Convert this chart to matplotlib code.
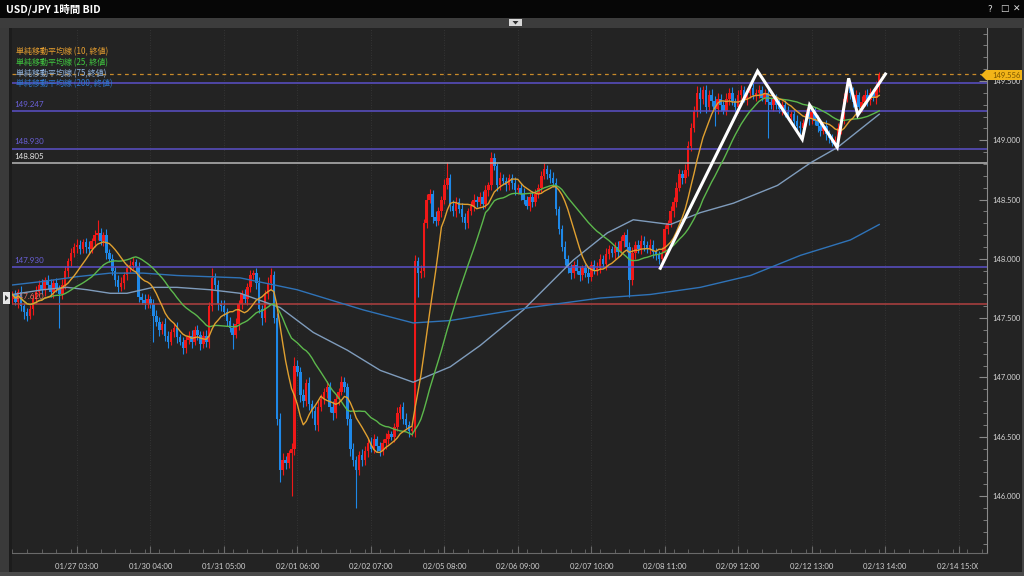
import numpy as np
import pandas as pd
import matplotlib
matplotlib.use("Agg")
import matplotlib.pyplot as plt
from matplotlib.patches import Rectangle, Polygon
from matplotlib.transforms import Bbox, TransformedBbox
from matplotlib.ticker import MultipleLocator

# ---------------- data ----------------
open0 = 147.66
closes = [
    147.70, 147.64, 147.72, 147.60, 147.55, 147.52, 147.58, 147.66, 147.72, 147.78,
    147.74, 147.82, 147.78, 147.72, 147.80, 147.75, 147.70, 147.78, 147.90, 147.98,
    148.05, 148.10, 148.12, 148.08, 148.14, 148.10, 148.08, 148.15, 148.20, 148.22,
    148.15, 148.20, 148.05, 148.00, 147.90, 147.82, 147.76, 147.80, 147.86, 147.92,
    147.95, 147.97, 147.93, 147.68, 147.65, 147.63, 147.66, 147.62, 147.52, 147.47,
    147.40, 147.45, 147.35, 147.30, 147.38, 147.42, 147.34, 147.30, 147.25, 147.32,
    147.35, 147.30, 147.40, 147.36, 147.28, 147.35, 147.30, 147.60, 147.84, 147.78,
    147.62, 147.60, 147.55, 147.48, 147.42, 147.36, 147.45, 147.62, 147.70, 147.66,
    147.76, 147.86, 147.88, 147.80, 147.58, 147.50, 147.70, 147.80, 147.86, 147.50,
    146.65, 146.22, 146.30, 146.28, 146.36, 146.40, 147.10, 147.05, 146.85, 146.80,
    146.95, 146.78, 146.72, 146.60, 146.75, 146.82, 146.88, 146.92, 146.75, 146.70,
    146.82, 146.88, 146.96, 146.92, 146.65, 146.40, 146.30, 146.22, 146.35, 146.30,
    146.38, 146.45, 146.40, 146.48, 146.42, 146.38, 146.45, 146.48, 146.52, 146.50,
    146.58, 146.70, 146.75, 146.65, 146.60, 146.55, 146.55, 147.98, 147.88, 147.90,
    148.30, 148.50, 148.55, 148.35, 148.32, 148.40, 148.50, 148.62, 148.68, 148.45,
    148.40, 148.48, 148.42, 148.35, 148.30, 148.40, 148.45, 148.50, 148.48, 148.52,
    148.46, 148.58, 148.62, 148.85, 148.78, 148.62, 148.68, 148.66, 148.62, 148.68,
    148.64, 148.58, 148.60, 148.55, 148.50, 148.45, 148.52, 148.48, 148.55, 148.60,
    148.70, 148.76, 148.72, 148.68, 148.64, 148.42, 148.25, 148.10, 148.00, 147.92,
    147.88, 147.95, 147.90, 147.86, 147.92, 147.88, 147.85, 147.95, 147.90, 147.92,
    148.00, 147.96, 148.04, 148.08, 148.05, 148.10, 148.06, 148.15, 148.20, 148.10,
    147.82, 148.05, 148.12, 148.08, 148.15, 148.12, 148.08, 148.12, 148.06, 148.03,
    148.00, 148.05, 148.25, 148.30, 148.40, 148.48, 148.60, 148.72, 148.68, 148.75,
    148.95, 149.10, 149.25, 149.40, 149.35, 149.42, 149.28, 149.38, 149.33, 149.26,
    149.35, 149.30, 149.25, 149.35, 149.40, 149.33, 149.28, 149.38, 149.42, 149.35,
    149.40, 149.44, 149.38, 149.40, 149.42, 149.36, 149.40, 149.32, 149.30, 149.35,
    149.30, 149.26, 149.30, 149.24, 149.20, 149.22, 149.16, 149.12, 149.10, 149.15,
    149.22, 149.18, 149.24, 149.16, 149.12, 149.08, 149.12, 149.05, 149.02, 148.98,
    149.00, 149.10, 149.18, 149.35, 149.45, 149.40, 149.32, 149.38, 149.28, 149.32,
    149.38, 149.34, 149.40, 149.36, 149.45, 149.556,
]
upper_wicks = [
    .03, .04, .03, .05, .03, .04, .03, .04, .05, .04,
    .05, .03, .04, .05, .03, .04, .03, .05, .04, .03,
    .04, .03, .05, .04, .03, .04, .05, .03, .04, .11,
    .04, .03, .05, .03, .04, .03, .04, .05, .03, .04,
    .04, .05, .03, .04, .03, .05, .04, .03, .04, .05,
    .04, .03, .05, .04, .03, .04, .05, .03, .04, .03,
    .04, .05, .03, .04, .03, .04, .05, .04, .08, .04,
    .04, .03, .05, .04, .03, .04, .05, .03, .04, .05,
    .04, .05, .03, .04, .05, .03, .04, .05, .06, .04,
    .04, .05, .06, .04, .03, .05, .07, .05, .04, .05,
    .04, .05, .03, .04, .05, .04, .03, .05, .04, .05,
    .04, .03, .05, .04, .03, .04, .05, .04, .03, .05,
    .04, .03, .05, .04, .03, .04, .03, .05, .04, .03,
    .04, .05, .03, .04, .05, .03, .04, .05, .04, .05,
    .04, .05, .04, .03, .05, .04, .03, .05, .14, .04,
    .05, .04, .03, .05, .04, .03, .04, .05, .03, .04,
    .05, .04, .03, .05, .04, .03, .05, .04, .03, .04,
    .04, .05, .03, .04, .05, .03, .04, .05, .04, .03,
    .04, .05, .03, .04, .05, .04, .03, .04, .05, .03,
    .04, .03, .05, .04, .03, .04, .05, .03, .04, .05,
    .04, .03, .05, .04, .03, .04, .05, .04, .03, .05,
    .04, .05, .03, .04, .05, .04, .03, .05, .04, .03,
    .04, .05, .04, .03, .05, .04, .05, .04, .03, .05,
    .04, .05, .04, .06, .05, .04, .05, .04, .05, .04,
    .05, .04, .03, .05, .04, .05, .03, .04, .05, .04,
    .04, .05, .04, .03, .05, .04, .03, .05, .04, .03,
    .04, .05, .03, .04, .05, .03, .04, .05, .04, .03,
    .04, .05, .03, .04, .05, .04, .03, .05, .04, .03,
    .04, .05, .04, .05, .06, .04, .05, .04, .03, .05,
    .04, .05, .04, .03, .05, .02,
]
lower_wicks = [
    .04, .03, .05, .04, .06, .04, .03, .05, .04, .03,
    .04, .05, .03, .04, .05, .03, .28, .04, .03, .05,
    .04, .03, .05, .04, .03, .05, .04, .03, .05, .04,
    .03, .04, .05, .03, .04, .05, .04, .03, .05, .04,
    .03, .04, .05, .04, .03, .05, .04, .03, .22, .04,
    .05, .03, .04, .05, .03, .04, .05, .03, .05, .04,
    .04, .05, .03, .04, .05, .03, .04, .05, .04, .03,
    .05, .04, .03, .05, .04, .12, .03, .05, .04, .03,
    .05, .04, .03, .05, .04, .06, .03, .04, .05, .04,
    .05, .10, .04, .05, .04, .36, .05, .04, .06, .05,
    .04, .05, .06, .04, .05, .03, .04, .05, .04, .06,
    .04, .05, .03, .04, .05, .06, .05, .32, .04, .05,
    .04, .05, .03, .04, .05, .04, .03, .05, .04, .03,
    .04, .03, .05, .04, .03, .05, .04, .05, .20, .04,
    .05, .04, .03, .05, .04, .03, .05, .04, .03, .05,
    .04, .05, .03, .04, .05, .04, .03, .05, .04, .03,
    .04, .03, .05, .04, .03, .05, .04, .03, .05, .04,
    .05, .04, .03, .05, .04, .03, .05, .04, .03, .04,
    .04, .03, .05, .04, .03, .05, .04, .03, .05, .04,
    .05, .04, .03, .05, .04, .03, .05, .04, .03, .04,
    .04, .03, .05, .04, .03, .05, .04, .03, .05, .04,
    .14, .04, .05, .03, .04, .05, .03, .04, .05, .04,
    .04, .03, .05, .04, .03, .05, .04, .03, .05, .04,
    .05, .04, .03, .05, .12, .04, .05, .03, .04, .14,
    .04, .05, .03, .04, .05, .03, .04, .05, .04, .03,
    .05, .04, .03, .05, .04, .03, .05, .30, .04, .05,
    .04, .03, .05, .04, .03, .05, .04, .03, .05, .04,
    .03, .05, .04, .03, .05, .04, .03, .05, .04, .03,
    .04, .03, .05, .04, .03, .05, .04, .03, .05, .04,
    .03, .05, .04, .03, .05, .04,
]

# long moving averages (bar index, price)
ma75_idx = [0, 10.4, 18.6, 25.4, 33.3, 39, 47.9, 56, 67.3, 77.5, 91.1, 102.4, 114, 125.2,
            136.4, 149, 159.2, 173.9, 190.9, 202.5, 211.3, 223.9, 234.1, 245.4, 260.4,
            271.6, 280.8, 295]
ma75_val = [147.70, 147.74, 147.76, 147.74, 147.71, 147.71, 147.76, 147.76, 147.74, 147.71,
            147.59, 147.38, 147.23, 147.06, 146.96, 147.09, 147.27, 147.57, 147.99, 148.22,
            148.33, 148.29, 148.39, 148.47, 148.62, 148.81, 148.94, 149.22]
ma200_idx = [0, 10.4, 22, 33.3, 44.5, 56, 77.5, 96.9, 119.4, 136.4, 149, 176.2, 200.1,
             217.1, 234.1, 251.2, 268.2, 285.2, 295]
ma200_val = [147.78, 147.81, 147.85, 147.88, 147.88, 147.86, 147.84, 147.74, 147.57, 147.46,
             147.48, 147.59, 147.67, 147.70, 147.76, 147.86, 148.03, 148.16, 148.29]

# hand-drawn zigzag annotation (bar index, price)
zig_idx = [220.5, 253.6, 268.8, 271.3, 280.7, 284.6, 287.7, 297.1]
zig_val = [147.921, 149.584, 149.008, 149.298, 148.941, 149.523, 149.213, 149.559]

level_vals = [149.480, 149.247, 148.930, 148.805, 147.930, 147.620]
level_labels = [None, "149.247", "148.930", "148.805", "147.930", "147.620"]
level_colors = ["#5a50c8", "#5a50c8", "#5a50c8", "#b8b8b8", "#5a50c8", "#b04040"]
level_text_colors = ["#6a60d8", "#6a60d8", "#6a60d8", "#e8e8e8", "#6a60d8", "#e07060"]

current_price = 149.556

xtick_idx = [22 + 25 * k for k in range(13)]
xtick_labels = ["01/27 03:00", "01/30 04:00", "01/31 05:00", "02/01 06:00", "02/02 07:00",
                "02/05 08:00", "02/06 09:00", "02/07 10:00", "02/08 11:00", "02/09 12:00",
                "02/12 13:00", "02/13 14:00", "02/14 15:00"]
ytick_vals = [146.0, 146.5, 147.0, 147.5, 148.0, 148.5, 149.0, 149.5]

legend_labels = ["単純移動平均線 (10, 終値)", "単純移動平均線 (25, 終値)",
                 "単純移動平均線 (75,終値)", "単純移動平均線 (200, 終値)"]
legend_colors = ["#e8a030", "#40c840", "#90b4e0", "#2e78d0"]

# ---------------- figure ----------------
W, H = 1024, 576
BG = "#232323"
fig = plt.figure(figsize=(W / 100, H / 100), dpi=100, facecolor=BG)
NUM = ["Lato", "DejaVu Sans"]
CJK = ["Noto Sans CJK JP", "DejaVu Sans"]


def frect(x0, y0, x1, y1, color, z=1):
    fig.add_artist(Rectangle((x0 / W, 1 - y1 / H), (x1 - x0) / W, (y1 - y0) / H,
                             transform=fig.transFigure, facecolor=color,
                             edgecolor="none", zorder=z))


frect(0, 0, W, 18, "#060606")
frect(0, 18, W, 28, "#3c3c3c")
frect(0, 28, 9, H, "#3a3a3a")
frect(9, 28, 12, H, "#1c1c1c")
frect(1022, 28, W, H, "#444444", z=0.5)
frect(0, 572, W, H, "#4a4a4a")
frect(509, 19, 522, 26, "#d8d8d8", z=2)
fig.add_artist(Polygon([[512.5 / W, 1 - 21 / H], [518.5 / W, 1 - 21 / H], [515.5 / W, 1 - 24.5 / H]],
                       transform=fig.transFigure, facecolor="#303030", edgecolor="none", zorder=3))
frect(3, 292, 10, 304, "#e6e6e6", z=2)
fig.add_artist(Polygon([[5 / W, 1 - 295 / H], [5 / W, 1 - 301 / H], [8.5 / W, 1 - 298 / H]],
                       transform=fig.transFigure, facecolor="#303030", edgecolor="none", zorder=3))

fig.text(6 / W, 1 - 9 / H, "USD/JPY 1時間 BID", color="white", fontsize=7.5,
         fontweight="bold", family=CJK, va="center", ha="left")
for xx, s in [(990, "?"), (1004, "□"), (1017, "✕")]:
    fig.text(xx / W, 1 - 9 / H, s, color="#e0e0e0", fontsize=6.5, family=["DejaVu Sans"],
             va="center", ha="center")

ax = fig.add_axes([12 / W, 1 - 553 / H, (986.5 - 12) / W, (553 - 28) / H], facecolor=BG)
ax.set_xlim(-0.12, 331.5)
ax.set_ylim(145.520, 149.947)

# grid
for xi in xtick_idx:
    ax.axvline(xi, color="#3a3a3a", lw=0.6, ls=(0, (1, 2)), zorder=0)

# candles
c = np.array(closes)
o = np.r_[open0, c[:-1]]
n = len(c)
x = np.arange(n)
hi = np.maximum(o, c) + np.array(upper_wicks)
lo = np.minimum(o, c) - np.array(lower_wicks)
col = np.where(c >= o, "#f01818", "#1e88e8")
ax.vlines(x, lo, hi, colors=col, lw=0.8, zorder=2)
ax.bar(x, np.maximum(np.abs(c - o), 0.012), bottom=np.minimum(o, c), width=0.85,
       color=col, linewidth=0, zorder=2)

# level lines
for v, lc in zip(level_vals, level_colors):
    ax.axhline(v, color=lc, lw=1.1, zorder=3)
for v, lab, tc in zip(level_vals, level_labels, level_text_colors):
    if lab:
        ax.annotate(lab, xy=(0.002, v), xycoords=("axes fraction", "data"),
                    xytext=(0, 2.5), textcoords="offset points", va="bottom", ha="left",
                    color=tc, fontsize=5.8, family=NUM, zorder=4)

ax.axhline(current_price, color="#c88a2a", lw=0.9, ls=(0, (3, 3)), zorder=3)

# moving averages
s = pd.Series(closes)
ma10 = s.rolling(10, min_periods=1).mean()
ma25 = s.rolling(25, min_periods=1).mean()
ax.plot(ma75_idx, ma75_val, color="#7f9cbc", lw=1.0, zorder=5)
ax.plot(ma200_idx, ma200_val, color="#2f73b8", lw=1.0, zorder=5)
ax.plot(x, ma25, color="#5cb84c", lw=1.0, zorder=5)
ax.plot(x, ma10, color="#e0a030", lw=1.0, zorder=6)

# zigzag
ax.plot(zig_idx, zig_val, color="white", lw=2.2, zorder=7, solid_joinstyle="miter",
        clip_on=False)

# axes styling
for sp in ["top", "left"]:
    ax.spines[sp].set_visible(False)
ax.spines["right"].set_color("#8a8a8a")
ax.spines["bottom"].set_color("#6a6a6a")
ax.yaxis.tick_right()
ax.set_yticks(ytick_vals)
ax.set_yticklabels([f"{v:.3f}" for v in ytick_vals])
ax.yaxis.set_minor_locator(MultipleLocator(0.1))
ax.tick_params(axis="y", which="major", direction="in", length=6, color="#8a8a8a",
               labelcolor="#d4d4d4", labelsize=5.5, pad=4.5)
ax.tick_params(axis="y", which="minor", direction="in", length=3, color="#8a8a8a")
for t in ax.get_yticklabels():
    t.set_family(NUM)
ax.set_xticks(xtick_idx)
ax.set_xticklabels([])
ax.xaxis.set_minor_locator(MultipleLocator(5))
ax.tick_params(axis="x", which="major", direction="in", length=5, color="#6a6a6a")
ax.tick_params(axis="x", which="minor", direction="in", length=3, color="#6a6a6a")

clipbb = TransformedBbox(Bbox.from_extents(12 / W, 0, 978 / W, 1), fig.transFigure)
for xi, lab in zip(xtick_idx, xtick_labels):
    t = ax.text(xi, -0.025, lab, transform=ax.get_xaxis_transform(), ha="center",
                va="center", color="#d0d0d0", fontsize=5.6, family=NUM, clip_on=True)
    t.set_clip_box(clipbb)

# legend
for k, (lab, lc) in enumerate(zip(legend_labels, legend_colors)):
    fig.text(16 / W, 1 - (52 + 10.7 * k) / H, lab, color=lc, fontsize=5.8, family=CJK,
             va="center", ha="left", zorder=10)

# current price marker
fig.add_artist(Polygon([[981 / W, 1 - 75 / H], [986 / W, 1 - 70 / H], [1022 / W, 1 - 70 / H],
                        [1022 / W, 1 - 80 / H], [986 / W, 1 - 80 / H]],
                       transform=fig.transFigure, facecolor="#f2b418", edgecolor="none",
                       zorder=5))
fig.text(992 / W, 1 - 75 / H, f"{current_price:.3f}", color="#7a5400", fontsize=5.5,
         family=NUM, va="center", ha="left", zorder=6)

fig.savefig("out.png", dpi=100, facecolor=BG)
